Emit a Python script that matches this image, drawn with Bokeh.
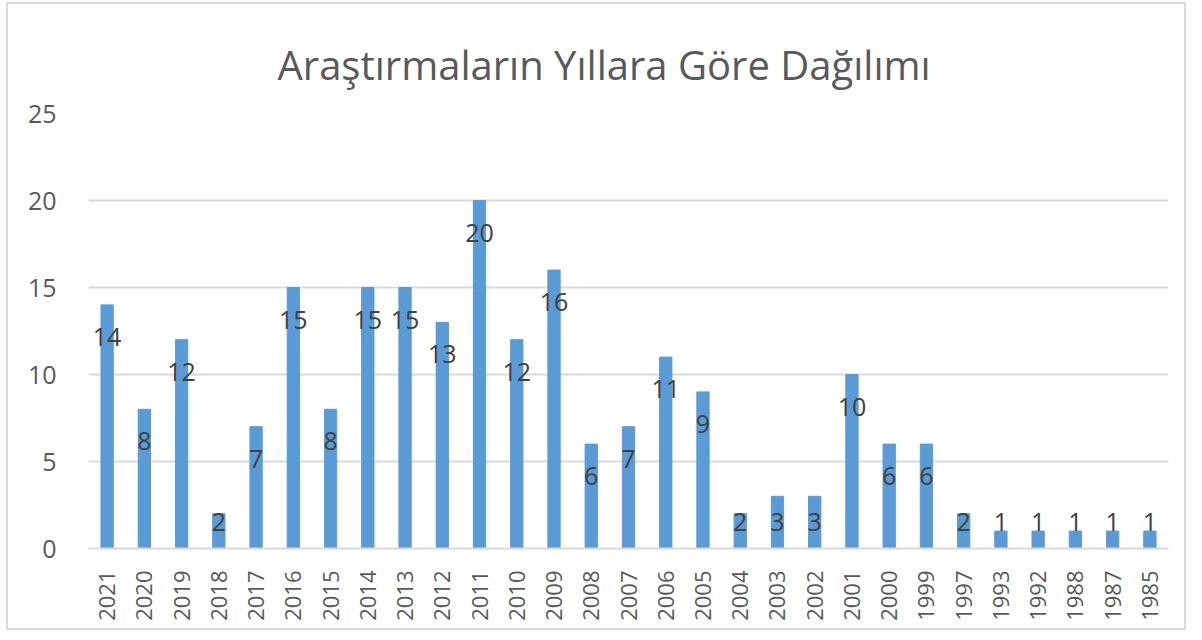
import math
from bokeh.plotting import figure
from bokeh.models import ColumnDataSource, Range1d, FixedTicker
from bokeh.core.properties import value
from bokeh.embed import file_html
from bokeh.resources import INLINE

years = ["2021", "2020", "2019", "2018", "2017", "2016", "2015", "2014", "2013", "2012",
         "2011", "2010", "2009", "2008", "2007", "2006", "2005", "2004", "2003", "2002",
         "2001", "2000", "1999", "1997", "1993", "1992", "1988", "1987", "1985"]
counts = [14, 8, 12, 2, 7, 15, 8, 15, 15, 13,
          20, 12, 16, 6, 7, 11, 9, 2, 3, 3,
          10, 6, 6, 2, 1, 1, 1, 1, 1]
y_ticks = [0, 5, 10, 15, 20, 25]
title_text = "Araştırmaların Yıllara Göre Dağılımı"

FONT = "Open Sans"
label_y = [max(c - 1.85, 1.55) for c in counts]
src = ColumnDataSource(dict(year=years, count=counts, ly=label_y,
                            txt=[str(c) for c in counts]))

p = figure(x_range=years, y_range=Range1d(0, 25), width=1180, height=628,
           output_backend="svg", toolbar_location=None,
           min_border_left=80, min_border_right=20, min_border_top=109, min_border_bottom=84)
p.styles = {"margin-left": "6px", "margin-top": "2px", "border": "2px solid #D9D9D9"}
p.title.text = title_text
p.title.align = "left"
p.title.offset = 189
p.title.text_font = FONT
p.title.text_font_size = "40px"
p.title.text_font_style = "normal"
p.title.text_color = "#595959"
p.title.standoff = 43

p.vbar(x="year", top="count", width=0.33, source=src, color="#5B9BD5")
p.text(x="year", y="ly", text="txt", source=src, text_align="center",
       text_baseline="middle", text_font=value(FONT), text_font_size="25px",
       text_color="#404040")

p.outline_line_color = None
p.border_fill_color = "white"
p.background_fill_color = "white"

p.yaxis.ticker = FixedTicker(ticks=y_ticks)
p.yaxis.axis_line_color = None
p.yaxis.major_tick_line_color = None
p.yaxis.minor_tick_line_color = None
p.yaxis.major_label_text_font = FONT
p.yaxis.major_label_text_font_size = "25px"
p.yaxis.major_label_text_color = "#595959"
p.yaxis.major_label_standoff = 26

p.xaxis.axis_line_color = "#D9D9D9"
p.xaxis.axis_line_width = 2
p.xaxis.major_tick_line_color = None
p.xaxis.major_label_orientation = math.pi / 2
p.xaxis.major_label_text_font = FONT
p.xaxis.major_label_text_font_size = "22px"
p.xaxis.major_label_text_color = "#595959"
p.xaxis.major_label_standoff = 16

p.xgrid.grid_line_color = None
p.ygrid.grid_line_color = "#D9D9D9"
p.ygrid.grid_line_width = 2
p.x_range.range_padding = 0.0

open("out.html", "w").write(file_html(p, INLINE))
